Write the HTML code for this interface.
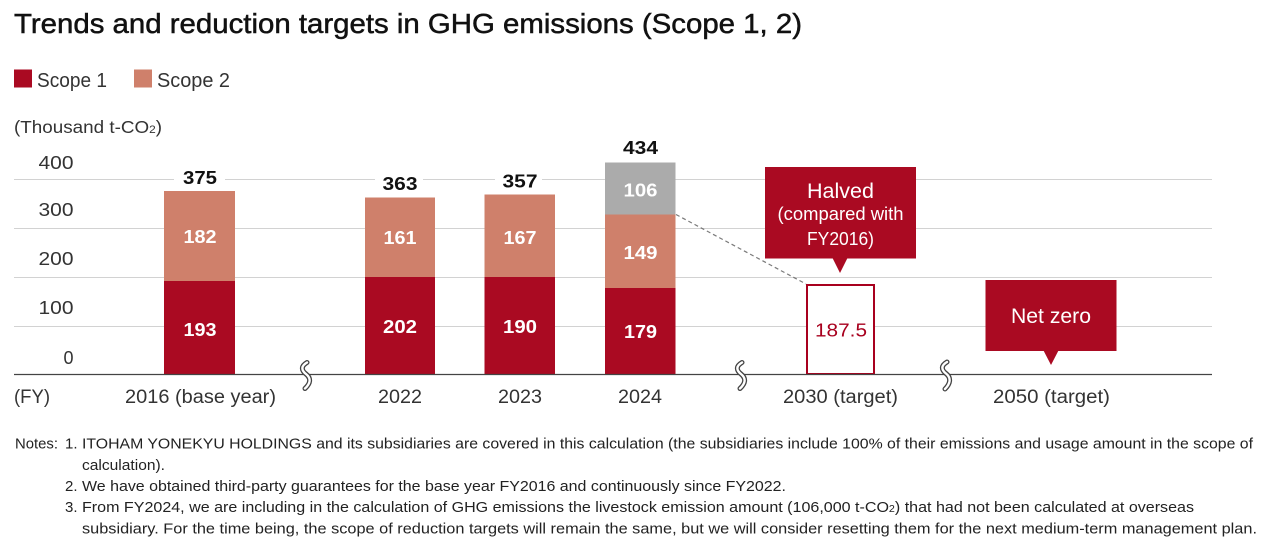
<!DOCTYPE html>
<html>
<head>
<meta charset="utf-8">
<style>
  html, body { margin: 0; padding: 0; background: #ffffff; }
  svg { display: block; }
  text { font-family: "Liberation Sans", "DejaVu Sans", sans-serif; }
</style>
</head>
<body>
<svg width="1263" height="548" viewBox="0 0 1263 548" xmlns="http://www.w3.org/2000/svg">
  <rect x="0" y="0" width="1263" height="548" fill="#ffffff"/>

  <!-- Title -->
  <text x="14" y="33" font-size="28" fill="#111" stroke="#111" stroke-width="0.5" textLength="788" lengthAdjust="spacingAndGlyphs">Trends and reduction targets in GHG emissions (Scope 1, 2)</text>

  <!-- Legend -->
  <rect x="14" y="69.5" width="18" height="18" fill="#AA0A22"/>
  <text x="37" y="87" font-size="20" fill="#333" textLength="70" lengthAdjust="spacingAndGlyphs">Scope 1</text>
  <rect x="134" y="69.5" width="18" height="18" fill="#CF806B"/>
  <text x="157" y="87" font-size="20" fill="#333" textLength="73" lengthAdjust="spacingAndGlyphs">Scope 2</text>

  <!-- Unit -->
  <text x="14" y="133" font-size="17.5" fill="#333" textLength="148" lengthAdjust="spacingAndGlyphs">(Thousand t-CO<tspan font-size="11">2</tspan>)</text>

  <!-- Gridlines -->
  <g stroke="#d2d2d2" stroke-width="1">
    <line x1="14" y1="179.5" x2="1212" y2="179.5"/>
    <line x1="14" y1="228.5" x2="1212" y2="228.5"/>
    <line x1="14" y1="277.5" x2="1212" y2="277.5"/>
    <line x1="14" y1="326.5" x2="1212" y2="326.5"/>
  </g>

  <!-- Y tick labels -->
  <g font-size="18" fill="#333" text-anchor="end">
    <text x="73.5" y="169" textLength="35" lengthAdjust="spacingAndGlyphs">400</text>
    <text x="73.5" y="216" textLength="35" lengthAdjust="spacingAndGlyphs">300</text>
    <text x="73.5" y="265" textLength="35" lengthAdjust="spacingAndGlyphs">200</text>
    <text x="73.5" y="314" textLength="35" lengthAdjust="spacingAndGlyphs">100</text>
    <text x="73.5" y="364">0</text>
  </g>

  <!-- Bars 2016 -->
  <rect x="164" y="191" width="71" height="90" fill="#CF806B"/>
  <rect x="164" y="281" width="71" height="93.5" fill="#AA0A22"/>
  <!-- Bars 2022 -->
  <rect x="365" y="197.5" width="70" height="79.5" fill="#CF806B"/>
  <rect x="365" y="277" width="70" height="97.5" fill="#AA0A22"/>
  <!-- Bars 2023 -->
  <rect x="484.5" y="194.5" width="70.5" height="82.5" fill="#CF806B"/>
  <rect x="484.5" y="277" width="70.5" height="97.5" fill="#AA0A22"/>
  <!-- Bars 2024 -->
  <rect x="605" y="162.5" width="70.5" height="52" fill="#ABABAB"/>
  <rect x="605" y="214.5" width="70.5" height="73.5" fill="#CF806B"/>
  <rect x="605" y="288" width="70.5" height="86.5" fill="#AA0A22"/>

  <!-- Bar value labels -->
  <g font-size="18.5" font-weight="bold" fill="#ffffff" text-anchor="middle">
    <text x="200" y="243" textLength="33" lengthAdjust="spacingAndGlyphs">182</text>
    <text x="200" y="336" textLength="33" lengthAdjust="spacingAndGlyphs">193</text>
    <text x="400" y="244" textLength="33" lengthAdjust="spacingAndGlyphs">161</text>
    <text x="400" y="333" textLength="34" lengthAdjust="spacingAndGlyphs">202</text>
    <text x="520" y="244" textLength="33" lengthAdjust="spacingAndGlyphs">167</text>
    <text x="520" y="333" textLength="34" lengthAdjust="spacingAndGlyphs">190</text>
    <text x="640.5" y="196.5" textLength="34" lengthAdjust="spacingAndGlyphs">106</text>
    <text x="640.5" y="259" textLength="34" lengthAdjust="spacingAndGlyphs">149</text>
    <text x="640.5" y="338" textLength="33" lengthAdjust="spacingAndGlyphs">179</text>
  </g>

  <!-- Totals with white backgrounds breaking gridline -->
  <rect x="174" y="170" width="51" height="16" fill="#ffffff"/>
  <rect x="375" y="174" width="48" height="16" fill="#ffffff"/>
  <rect x="495" y="172" width="47" height="16" fill="#ffffff"/>
  <g font-size="18" font-weight="bold" fill="#111" text-anchor="middle">
    <text x="200" y="184" textLength="34" lengthAdjust="spacingAndGlyphs">375</text>
    <text x="400" y="190" textLength="35" lengthAdjust="spacingAndGlyphs">363</text>
    <text x="520" y="187.5" textLength="35" lengthAdjust="spacingAndGlyphs">357</text>
    <text x="640.5" y="154" textLength="35" lengthAdjust="spacingAndGlyphs">434</text>
  </g>

  <!-- Dashed connector -->
  <line x1="676" y1="214.5" x2="806" y2="284" stroke="#7a7a7a" stroke-width="1.2" stroke-dasharray="4,3"/>

  <!-- 2030 target box -->
  <rect x="807" y="285" width="67" height="89" fill="#ffffff" stroke="#A8001E" stroke-width="2"/>
  <text x="841" y="336.5" font-size="18.5" fill="#A8001E" text-anchor="middle" textLength="52" lengthAdjust="spacingAndGlyphs">187.5</text>

  <!-- Halved callout -->
  <rect x="765" y="167" width="151" height="91.5" fill="#AA0A22"/>
  <polygon points="832.5,258 847.5,258 840,273" fill="#AA0A22"/>
  <g fill="#ffffff" text-anchor="middle">
    <text x="840.5" y="198" font-size="21" textLength="67" lengthAdjust="spacingAndGlyphs">Halved</text>
    <text x="840.5" y="220" font-size="18" textLength="126" lengthAdjust="spacingAndGlyphs">(compared with</text>
    <text x="840.5" y="245" font-size="18" textLength="67" lengthAdjust="spacingAndGlyphs">FY2016)</text>
  </g>

  <!-- Net zero callout -->
  <rect x="985.5" y="280" width="131" height="71" fill="#AA0A22"/>
  <polygon points="1043.5,350.5 1058.5,350.5 1051,365" fill="#AA0A22"/>
  <text x="1051" y="323" font-size="21.5" fill="#ffffff" text-anchor="middle" textLength="80" lengthAdjust="spacingAndGlyphs">Net zero</text>

  <!-- Baseline -->
  <line x1="14" y1="374.5" x2="1212" y2="374.5" stroke="#444" stroke-width="1.3"/>

  <!-- Axis break squiggles -->
  <g fill="none" stroke-linecap="round">
    <path d="M307,362.5 C301,366 301,370 306,374 C311,378 311,383 305,388.5" stroke="#444" stroke-width="5"/>
    <path d="M307,362.5 C301,366 301,370 306,374 C311,378 311,383 305,388.5" stroke="#ffffff" stroke-width="2.4"/>
    <path d="M742,362.5 C736,366 736,370 741,374 C746,378 746,383 740,388.5" stroke="#444" stroke-width="5"/>
    <path d="M742,362.5 C736,366 736,370 741,374 C746,378 746,383 740,388.5" stroke="#ffffff" stroke-width="2.4"/>
    <path d="M947,362 C941,365.5 941,369.5 946,373.5 C951,377.5 951,383 945,389" stroke="#444" stroke-width="5"/>
    <path d="M947,362 C941,365.5 941,369.5 946,373.5 C951,377.5 951,383 945,389" stroke="#ffffff" stroke-width="2.4"/>
  </g>

  <!-- Category labels -->
  <g font-size="19" fill="#333">
    <text x="14" y="403" textLength="36" lengthAdjust="spacingAndGlyphs">(FY)</text>
    <text x="200.5" y="403" text-anchor="middle" textLength="151" lengthAdjust="spacingAndGlyphs">2016 (base year)</text>
    <text x="400" y="403" text-anchor="middle" textLength="44" lengthAdjust="spacingAndGlyphs">2022</text>
    <text x="520" y="403" text-anchor="middle" textLength="44" lengthAdjust="spacingAndGlyphs">2023</text>
    <text x="640" y="403" text-anchor="middle" textLength="44" lengthAdjust="spacingAndGlyphs">2024</text>
    <text x="840.5" y="403" text-anchor="middle" textLength="115" lengthAdjust="spacingAndGlyphs">2030 (target)</text>
    <text x="1051.5" y="403" text-anchor="middle" textLength="117" lengthAdjust="spacingAndGlyphs">2050 (target)</text>
  </g>

  <!-- Notes -->
  <g font-size="15" fill="#222">
    <text x="15" y="448.5" textLength="43" lengthAdjust="spacingAndGlyphs">Notes:</text>
    <text x="65" y="448.5">1.</text>
    <text x="82" y="448.5" textLength="1171" lengthAdjust="spacingAndGlyphs">ITOHAM YONEKYU HOLDINGS and its subsidiaries are covered in this calculation (the subsidiaries include 100% of their emissions and usage amount in the scope of</text>
    <text x="82" y="470" textLength="83" lengthAdjust="spacingAndGlyphs">calculation).</text>
    <text x="65" y="491">2.</text>
    <text x="82" y="491" textLength="704" lengthAdjust="spacingAndGlyphs">We have obtained third-party guarantees for the base year FY2016 and continuously since FY2022.</text>
    <text x="65" y="512">3.</text>
    <text x="82" y="512" textLength="1112" lengthAdjust="spacingAndGlyphs">From FY2024, we are including in the calculation of GHG emissions the livestock emission amount (106,000 t-CO<tspan font-size="10">2</tspan>) that had not been calculated at overseas</text>
    <text x="82" y="533.5" textLength="1175" lengthAdjust="spacingAndGlyphs">subsidiary. For the time being, the scope of reduction targets will remain the same, but we will consider resetting them for the next medium-term management plan.</text>
  </g>
</svg>
</body>
</html>
